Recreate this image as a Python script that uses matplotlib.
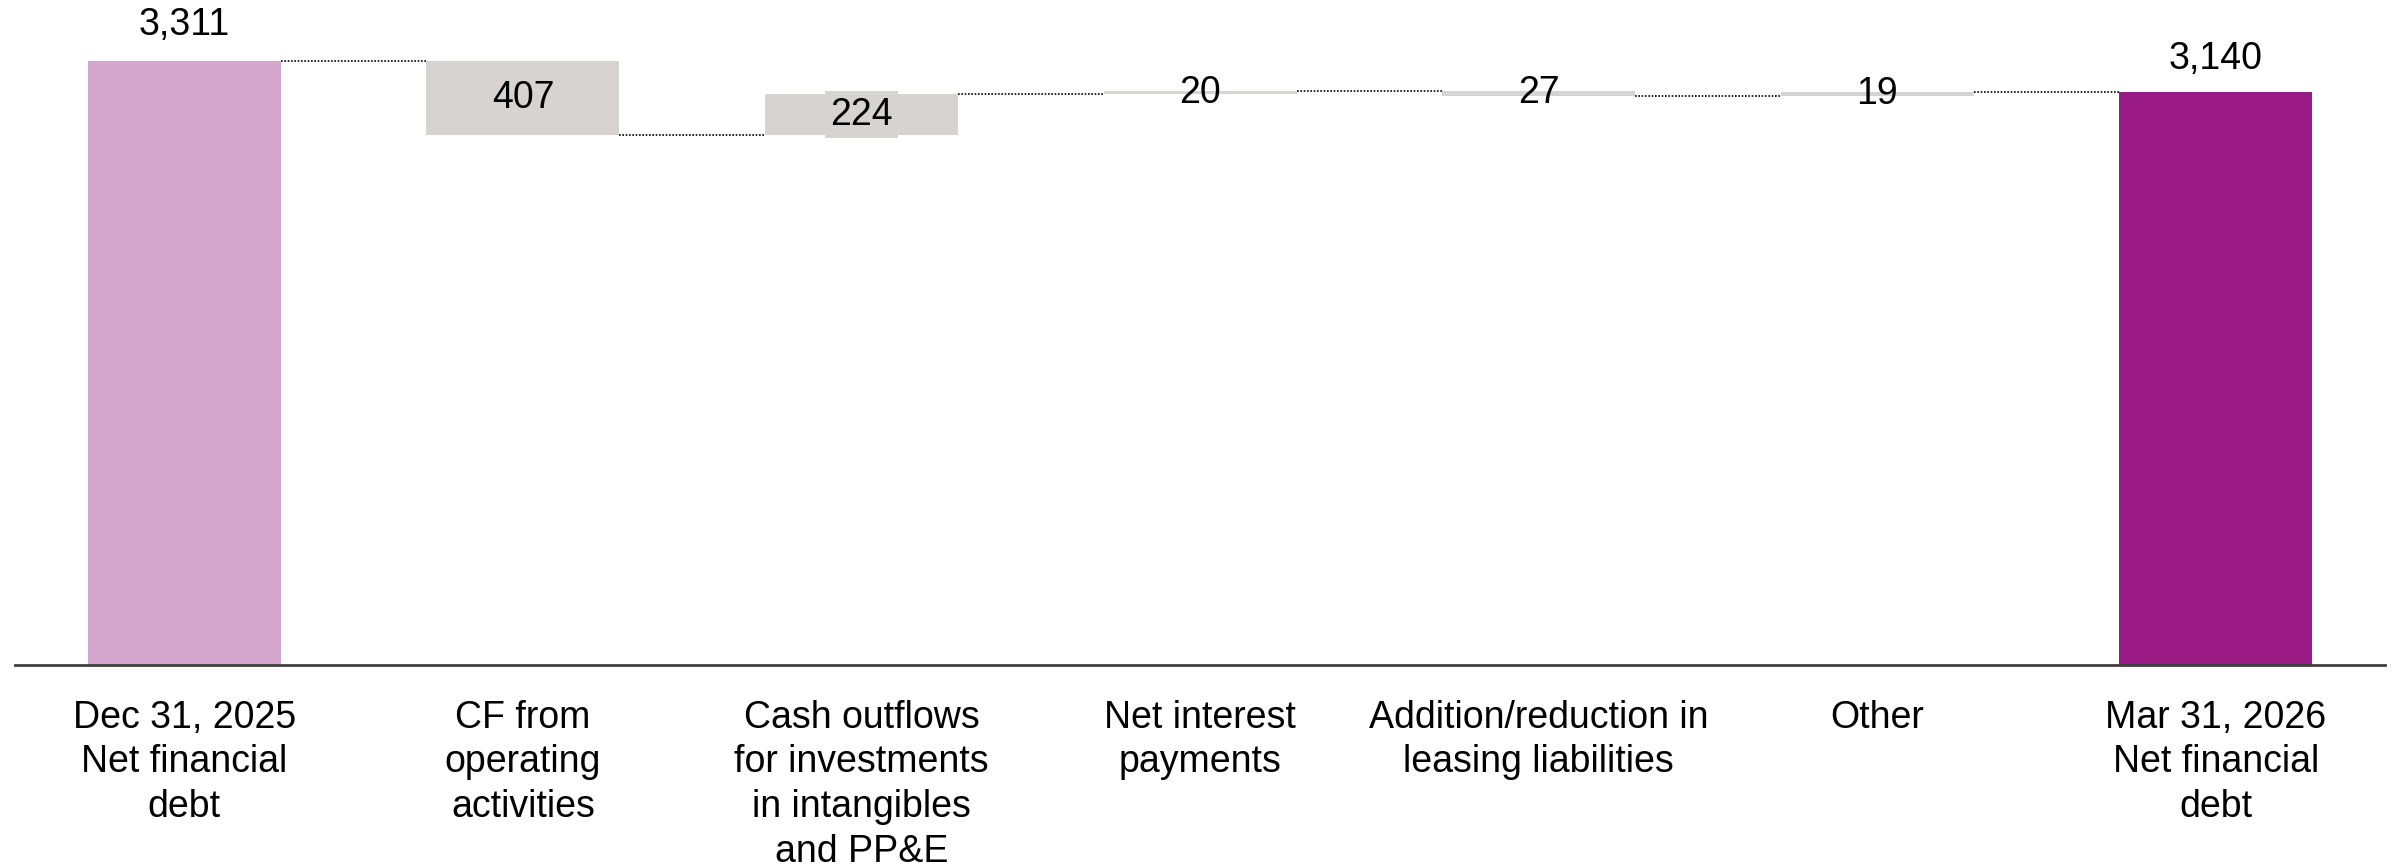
import matplotlib.pyplot as plt
import numpy as np

# Net financial debt bridge, EUR m
categories = [
    "Dec 31, 2025\nNet financial\ndebt",
    "CF from\noperating\nactivities",
    "Cash outflows\nfor investments\nin intangibles\nand PP&E",
    "Net interest\npayments",
    "Addition/reduction in\nleasing liabilities",
    "Other",
    "Mar 31, 2026\nNet financial\ndebt",
]
start_value = 3311
changes = [-407, 224, 20, -27, 19]
end_value = 3140
change_labels = ["407", "224", "20", "27", "19"]

plt.rcParams["font.family"] = ["Liberation Sans", "DejaVu Sans"]

c_start = "#D5A6CE"
c_end = "#9B1B86"
c_step = "#D6D3D0"

fig = plt.figure(figsize=(23.97, 8.67), dpi=100)
ax = fig.add_axes([0.0063, 0.233, 0.9887, 0.7555])

x = np.arange(len(categories))
width = 0.57

# running totals for the floating bars
levels = np.concatenate([[start_value], start_value + np.cumsum(changes)])
bottoms = np.minimum(levels[:-1], levels[1:])
heights = np.abs(changes)

ax.bar(x[0], start_value, width, color=c_start)
ax.bar(x[1:-1], heights, width, bottom=bottoms, color=c_step)
ax.bar(x[-1], end_value, width, color=c_end)

# dotted connectors between neighbouring bars
for i in range(len(x) - 1):
    ax.plot([x[i] + width / 2, x[i + 1] - width / 2], [levels[i], levels[i]],
            color="black", lw=1.2, ls=(0, (1, 1)))

fs = 27
ax.annotate(f"{start_value:,}", (x[0], start_value), xytext=(0, 26),
            textcoords="offset points", ha="center", va="center", fontsize=fs)
ax.annotate(f"{end_value:,}", (x[-1], end_value), xytext=(0, 24),
            textcoords="offset points", ha="center", va="center", fontsize=fs)
for i, lab in enumerate(change_labels):
    yc = bottoms[i] + heights[i] / 2
    kw = {}
    if i == 1:
        kw["bbox"] = dict(facecolor=c_step, edgecolor="none", pad=4)
    ax.text(x[i + 1], yc, lab, ha="center", va="center", fontsize=fs, **kw)

ax.set_xlim(-0.5, 6.5)
ax.set_ylim(0, 3591)
ax.set_xticks(x)
ax.set_xticklabels(categories, fontsize=fs, linespacing=1.31)
ax.tick_params(axis="x", length=0, pad=25)
ax.set_yticks([])
for s in ["top", "left", "right"]:
    ax.spines[s].set_visible(False)
ax.spines["bottom"].set_color("#404040")
ax.spines["bottom"].set_linewidth(2)

fig.savefig("out.png", dpi=100)
